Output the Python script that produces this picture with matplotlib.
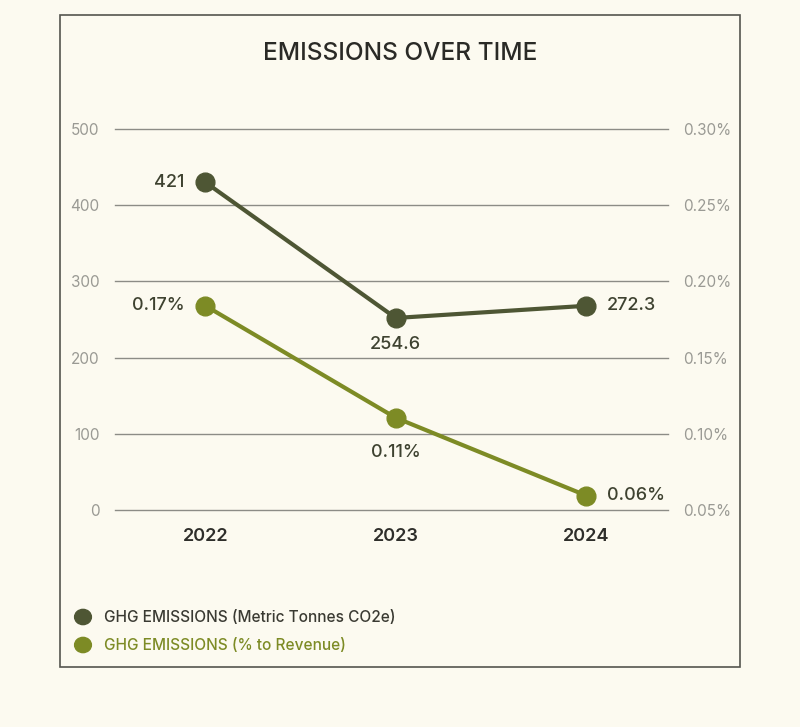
import matplotlib.pyplot as plt
from matplotlib.patches import Rectangle

plt.rcParams['font.family'] = ['Inter', 'DejaVu Sans']

years = ["2022", "2023", "2024"]
# positions; labels are the printed values
tonnes = [430, 252, 268]
tonnes_labels = ["421", "254.6", "272.3"]
pct = [0.184, 0.1105, 0.0595]
pct_labels = ["0.17%", "0.11%", "0.06%"]
left_ticks = [0, 100, 200, 300, 400, 500]
right_ticks = [0.05, 0.10, 0.15, 0.20, 0.25, 0.30]

bg = "#FCFAF0"
dark = "#4E5634"
green = "#7D8B25"
grid_c = "#8C8C86"
tick_c = "#9A9A94"

fig = plt.figure(figsize=(8, 7.27), dpi=100, facecolor=bg)
fig.patches.append(Rectangle((60/800, 1-667/727), 680/800, 652/727, transform=fig.transFigure,
                             fill=False, edgecolor="#55554F", linewidth=1.2))

ax = fig.add_axes([115/800, 1-510/727, 553/800, 381/727])
ax.set_facecolor(bg)
x = list(range(len(years)))
ax.set_xlim(-0.475, 2.43)
ax.set_ylim(0, 500)
ax.set_yticks(left_ticks)
ax.grid(axis='y', color=grid_c, linewidth=1)
for gl in ax.get_ygridlines():
    gl.set_clip_on(False)
ax.set_axisbelow(True)
for s in ax.spines.values():
    s.set_visible(False)
ax.tick_params(axis='y', length=0, pad=11, labelsize=11, labelcolor=tick_c)
ax.tick_params(axis='x', length=0, pad=13, labelsize=13, labelcolor="#2E2E2A")
ax.set_xticks(x)
ax.set_xticklabels(years, fontweight='semibold')

ax2 = ax.twinx()
ax2.set_ylim(0.05, 0.30)
ax2.set_yticks(right_ticks)
ax2.set_yticklabels([f"{v:.2f}%" for v in right_ticks])
ax2.tick_params(axis='y', length=0, pad=11, labelsize=11, labelcolor=tick_c)
for s in ax2.spines.values():
    s.set_visible(False)

ax.plot(x, tonnes, color=dark, linewidth=3, marker='o', markersize=13.5, clip_on=False, zorder=3)
ax2.plot(x, pct, color=green, linewidth=3, marker='o', markersize=13.5, clip_on=False, zorder=3)

lab = dict(fontsize=13, fontweight='medium', textcoords='offset points', va='center', color="#3E4230")
ax.annotate(tonnes_labels[0], (x[0], tonnes[0]), xytext=(-15, 0), ha='right', **lab)
ax.annotate(tonnes_labels[1], (x[1], tonnes[1]), xytext=(0, -19), ha='center', **lab)
ax.annotate(tonnes_labels[2], (x[2], tonnes[2]), xytext=(15, 0), ha='left', **lab)
ax2.annotate(pct_labels[0], (x[0], pct[0]), xytext=(-15, 0), ha='right', **lab)
ax2.annotate(pct_labels[1], (x[1], pct[1]), xytext=(0, -25), ha='center', **lab)
ax2.annotate(pct_labels[2], (x[2], pct[2]), xytext=(15, 0), ha='left', **lab)

fig.text(0.5, 1-53/727, "EMISSIONS OVER TIME", ha='center', va='center', fontsize=17.6,
         fontweight='medium', color="#2A2A26")

# legend
fig.patches.append(plt.Circle((83/800, 1-617/727), 0.0105, transform=fig.transFigure, color=dark))
fig.patches.append(plt.Circle((83/800, 1-645/727), 0.0105, transform=fig.transFigure, color=green))
fig.text(104/800, 1-617/727, "GHG EMISSIONS (Metric Tonnes CO2e)", va='center', fontsize=11.1,
         fontweight='medium', color="#3A3A32")
fig.text(104/800, 1-645/727, "GHG EMISSIONS (% to Revenue)", va='center', fontsize=11.1,
         fontweight='medium', color=green)

fig.savefig("out.png", dpi=100, facecolor=bg)
